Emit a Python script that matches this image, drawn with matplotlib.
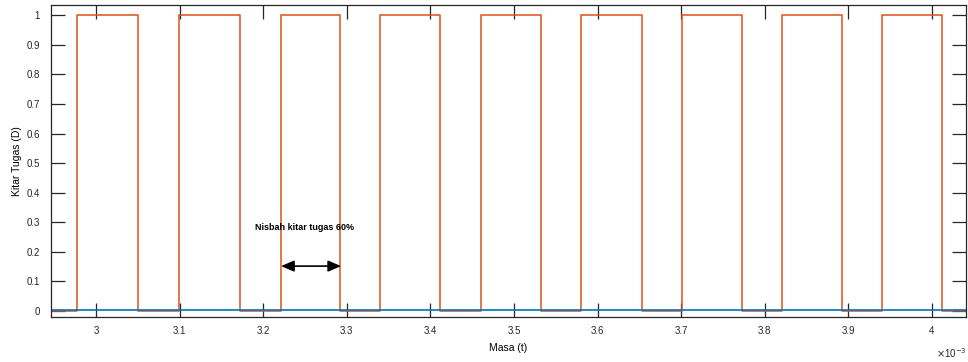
import matplotlib
matplotlib.use("Agg")
from matplotlib import pyplot as plt
from matplotlib.ticker import FuncFormatter

plt.rcParams["font.family"] = ["Liberation Sans", "DejaVu Sans"]

# rising / falling edges of the PWM signal (seconds)
rise_t = [2.9773e-3, 3.0993e-3, 3.2213e-3, 3.3397e-3, 3.4605e-3,
          3.5801e-3, 3.7010e-3, 3.8206e-3, 3.9402e-3]
fall_t = [3.0502e-3, 3.1722e-3, 3.2919e-3, 3.4115e-3, 3.5323e-3,
          3.6531e-3, 3.7727e-3, 3.8923e-3, 4.0120e-3]
t_start = 2.946e-3
t_end = 4.041e-3
blue_level = 0.003

x_ticks = [3.0e-3, 3.1e-3, 3.2e-3, 3.3e-3, 3.4e-3, 3.5e-3,
           3.6e-3, 3.7e-3, 3.8e-3, 3.9e-3, 4.0e-3]
y_ticks = [0, 0.1, 0.2, 0.3, 0.4, 0.5, 0.6, 0.7, 0.8, 0.9, 1]

# build step signal from edges
t = [t_start]
d = [0]
for r, f in zip(rise_t, fall_t):
    t += [r, r, f, f]
    d += [0, 1, 1, 0]
t.append(t_end)
d.append(0)

fig = plt.figure(figsize=(9.68, 3.62), dpi=100)
ax = fig.add_axes([0.0527, 0.1243, 0.9453, 0.8617])

ax.plot(t, d, color="#D95319", lw=1.1)
ax.plot([t_start, t_end], [blue_level, blue_level], color="#0072BD", lw=1.2)

ax.set_xlim(t_start, t_end)
ax.set_ylim(-0.02, 1.034)
ax.set_xticks(x_ticks)
ax.set_yticks(y_ticks)
ax.xaxis.set_major_formatter(FuncFormatter(lambda v, p: "%g" % round(v * 1e3, 3)))
ax.yaxis.set_major_formatter(FuncFormatter(lambda v, p: "%g" % round(v, 2)))
ax.tick_params(direction="in", length=10, width=0.9, labelsize=7,
               top=True, right=True, colors="#262626", pad=8)
ax.tick_params(axis="x", pad=6.5)
for s in ax.spines.values():
    s.set_color("#262626")
    s.set_linewidth(0.9)

ax.set_xlabel("Masa (t)", fontsize=7.5, labelpad=5)
ax.set_ylabel("Kitar Tugas (D)", fontsize=7.5, labelpad=3.5)

ax.text(1.0 - 0.033, -0.115, r"$\times$10$^{-3}$", transform=ax.transAxes,
        fontsize=7, color="#262626", ha="left", va="center")

ax.annotate("", xy=(3.2213e-3, 0.152), xytext=(3.2931e-3, 0.152),
            arrowprops=dict(arrowstyle="<|-|>,head_length=0.65,head_width=0.28",
                            color="black", lw=1.2,
                            mutation_scale=12, shrinkA=0, shrinkB=0))
ax.text(3.250e-3, 0.284, "Nisbah kitar tugas 60%", fontsize=6.5,
        fontweight="bold", ha="center", va="center")

fig.savefig("out.png", dpi=100)
